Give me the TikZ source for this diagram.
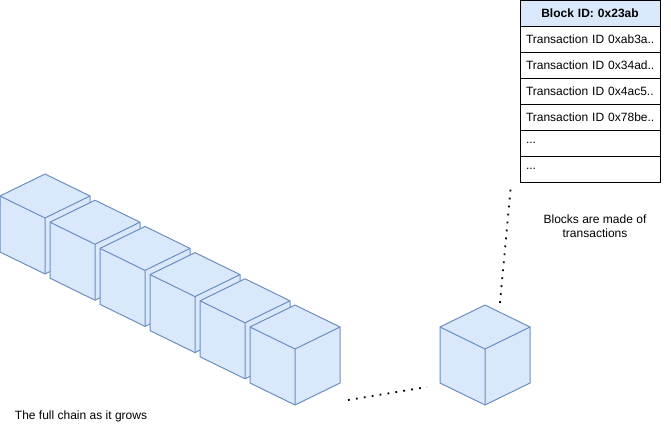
\documentclass[tikz,border=0pt]{standalone}
\usepackage{fontspec}
\setmainfont{Liberation Sans}
\usetikzlibrary{positioning}
\definecolor{cubefill}{HTML}{DAE8FC}
\definecolor{cubeedge}{HTML}{6C8EBF}

\begin{document}
\begin{tikzpicture}[
  x=1pt, y=-1pt,
  font=\fontsize{12}{14}\selectfont,
  face/.style ={fill=cubefill, draw=cubeedge, line width=1pt, line join=round},
  pics/cube/.style={code={
    \node[minimum width=90pt, minimum height=100pt, inner sep=0pt, outer sep=0pt] (-box) {};
    \filldraw[face] (0,-50) -- (45,-28) -- (45,28) -- (0,50) -- (-45,28) -- (-45,-28) -- cycle;
    \draw[face, fill=none] (-45,-28) -- (0,-6) -- (45,-28) (0,-6) -- (0,50);
  }},
  row/.style  ={draw, line width=1pt, minimum height=26pt, text width=131pt,
                inner xsep=4.5pt, inner ysep=0pt, outer sep=0pt, align=left},
  head/.style ={row, fill=cubefill, align=center,
                font=\fontsize{12}{14}\selectfont\bfseries},
  link/.style ={line width=1.8pt, dash pattern=on 1.8pt off 6.2pt}
]
\useasboundingbox (0,0) rectangle (671,442);

% ---------- The chain ----------
\pic (b1) at (45,224)   {cube};
\pic (b2) at (95,250.2) {cube};
\pic (b3) at (145,276.4) {cube};
\pic (b4) at (195,302.6) {cube};
\pic (b5) at (245,328.8) {cube};
\pic (b6) at (295,355)  {cube};
\node (chaincap) at (81,416) {The full chain as it grows};

% ---------- Single block ----------
\pic (blk) at (485,355) {cube};

% ---------- Block contents ----------
\node[head] (hdr) at (590,13) {Block ID: 0x23ab};
\node[row, below=0pt of hdr] (tx1) {\hspace*{1.5pt}Transaction ID 0xab3a..};
\node[row, below=0pt of tx1] (tx2) {\hspace*{1.5pt}Transaction ID 0x34ad..};
\node[row, below=0pt of tx2] (tx3) {\hspace*{1.5pt}Transaction ID 0x4ac5..};
\node[row, below=0pt of tx3] (tx4) {\hspace*{1.5pt}Transaction ID 0x78be..};
\node[row, below=0pt of tx4] (more1) {\hspace*{1.5pt}...};
\node[row, below=0pt of more1] (more2) {\hspace*{1.5pt}...};
\node[align=center] (blkcap) at (595,226) {Blocks are made of\\transactions};

% ---------- Links ----------
\draw[link] ([shift={(8,-5)}]b6-box.south east) -- ([shift={(-13,-18)}]blk-box.south west);
\draw[link] ([shift={(15,-2)}]blk-box.north) -- ([shift={(-9,2)}]more2.south west);

\end{tikzpicture}
\end{document}
